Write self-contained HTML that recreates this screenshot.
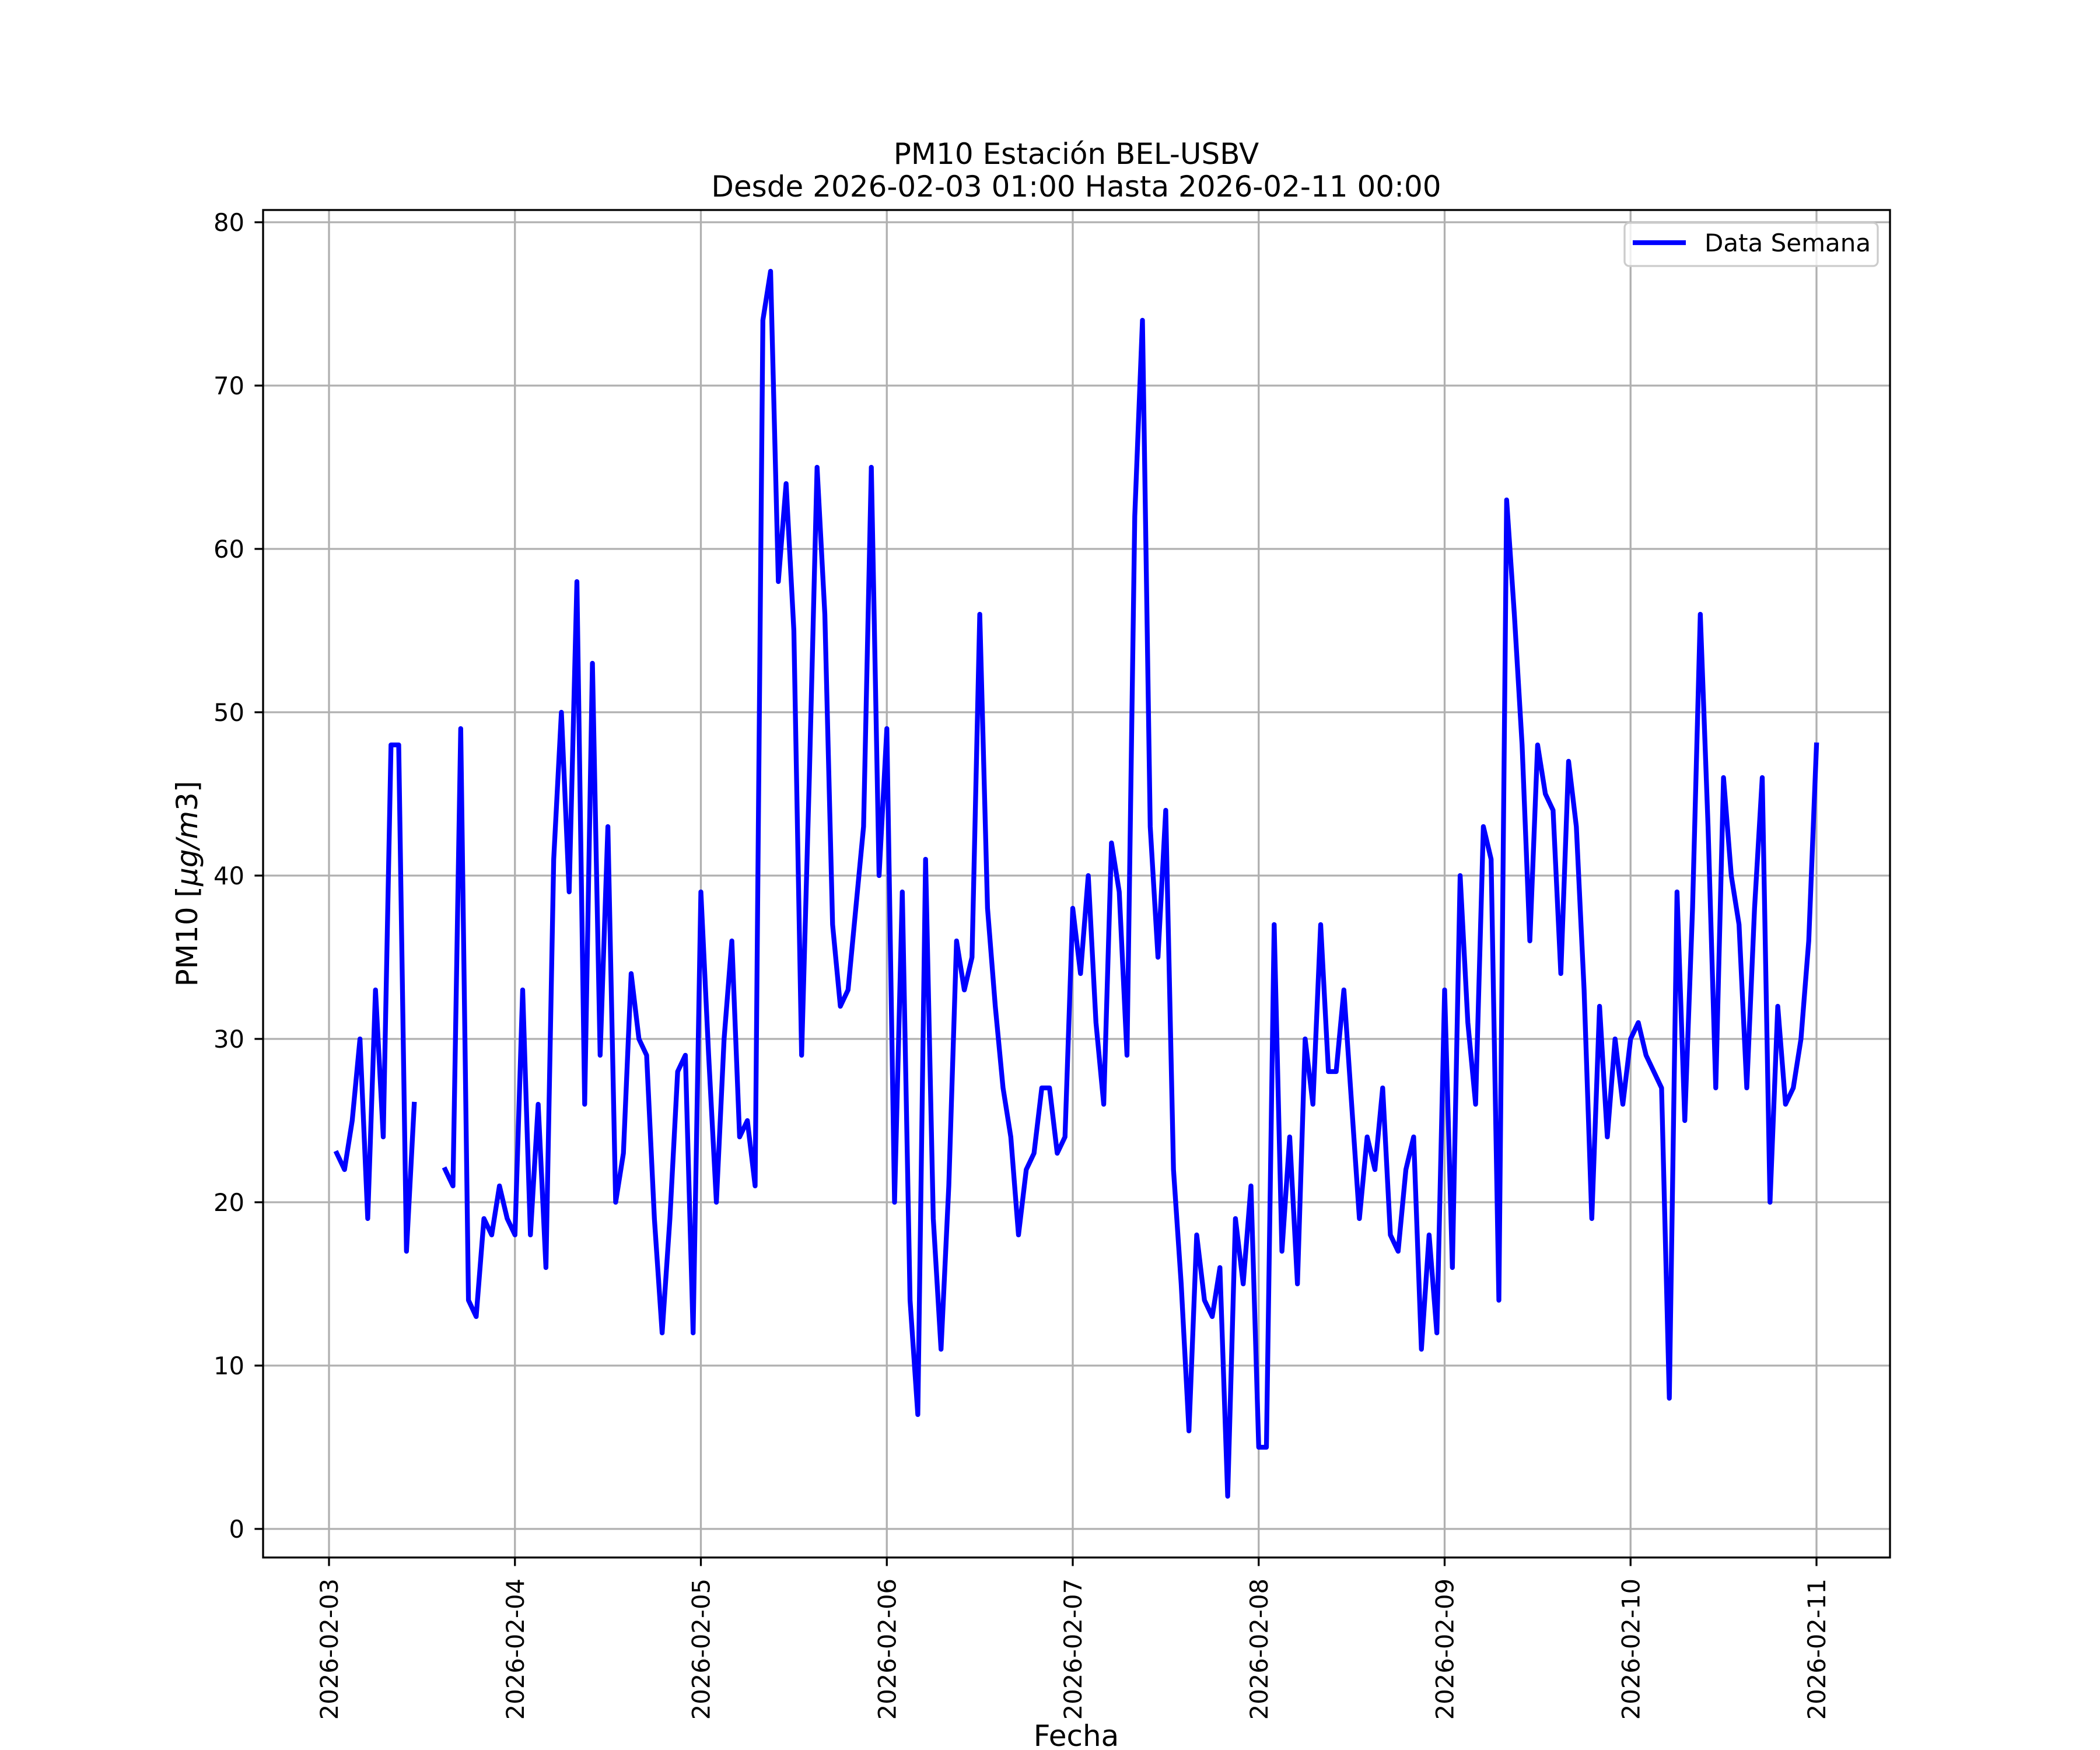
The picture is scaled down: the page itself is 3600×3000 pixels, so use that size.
<!DOCTYPE html>
<html><head><meta charset="utf-8">
<style>
html,body{margin:0;padding:0;background:#fff;}
svg{display:block;font-family:"DejaVu Sans","Liberation Sans",sans-serif;}
</style></head>
<body>
<svg id="chart" width="3600" height="3000" viewBox="0 0 3600 3000" xmlns="http://www.w3.org/2000/svg">
<rect x="0" y="0" width="3600" height="3000" fill="#fff"/>
<text x="1845" y="281" font-size="50" text-anchor="middle">PM10 Estación BEL-USBV</text>
<text x="1845" y="337" font-size="50" text-anchor="middle">Desde 2026-02-03 01:00 Hasta 2026-02-11 00:00</text>
<g id="grid"></g>
<g id="series"></g>
<rect x="451" y="360" width="2789" height="2310" fill="none" stroke="#000" stroke-width="3.3"/>
<g id="ticks"></g>
<text transform="translate(320,1515) rotate(-90)" font-size="50" text-anchor="middle" dy="0.36em">PM10 [<tspan font-style="italic">μg/m</tspan>3]</text>
<text x="1845" y="2993" font-size="50" text-anchor="middle">Fecha</text>
<g>
<rect x="2785" y="382" width="434" height="74" rx="8" fill="#fff" fill-opacity="0.8" stroke="#cccccc" stroke-width="3.3"/>
<line x1="2799" y1="416" x2="2890" y2="416" stroke="#0000ff" stroke-width="8.3"/>
<text x="2922" y="431" font-size="42">Data Semana</text>
</g>
</svg>
<script>
const startHour = 1; // 2026-02-03 01:00, hours since 2026-02-03 00:00
const values = [
23,22,25,30,19,33,24,48,48,17,26,null,null,null,22,21,49,14,13,19,18,21,19,18,
33,18,26,16,41,50,39,58,26,53,29,43,20,23,34,30,29,19,12,19,28,29,12,39,
29,20,30,36,24,25,21,74,77,58,64,55,29,46,65,56,37,32,33,38,43,65,40,49,
20,39,14,7,41,19,11,21,36,33,35,56,38,32,27,24,18,22,23,27,27,23,24,38,
34,40,31,26,42,39,29,62,74,43,35,44,22,15,6,18,14,13,16,2,19,15,21,5,
5,37,17,24,15,30,26,37,28,28,33,26,19,24,22,27,18,17,22,24,11,18,12,33,
16,40,31,26,43,41,14,63,56,48,36,48,45,44,34,47,43,33,19,32,24,30,26,30,
31,29,28,27,8,39,25,38,56,43,27,46,40,37,27,38,46,20,32,26,27,30,36,48
];
const yTicks = [0,10,20,30,40,50,60,70,80];
const xTickLabels = ["2026-02-03","2026-02-04","2026-02-05","2026-02-06","2026-02-07","2026-02-08","2026-02-09","2026-02-10","2026-02-11"];

const NS = "http://www.w3.org/2000/svg";
const X0 = 564, DAYPX = 318.75, Y0 = 2621, UNIT = 28;
function xScale(h){ return X0 + h/24*DAYPX; }
function yScale(v){ return Y0 - v*UNIT; }
function mk(tag, attrs, parent){
  const el = document.createElementNS(NS, tag);
  for (const k in attrs) el.setAttribute(k, attrs[k]);
  parent.appendChild(el);
  return el;
}
const grid = document.getElementById('grid');
const ticks = document.getElementById('ticks');
const series = document.getElementById('series');

yTicks.forEach(v => {
  const y = yScale(v);
  const g = mk('line', {x1:451, x2:3240, y1:y, y2:y, stroke:'#b0b0b0', 'stroke-width':3.3}, grid);
  
  
  const t = mk('line', {x1:436.4, x2:451, y1:y, y2:y, stroke:'#000', 'stroke-width':3.3}, ticks);
  
  
  const lb = mk('text', {x:419, y:y, dy:'0.36em', 'font-size':41.7, 'text-anchor':'end'}, ticks);
  lb.textContent = String(v);
  
  
});
xTickLabels.forEach((lab, i) => {
  const x = xScale(i*24);
  const g = mk('line', {x1:x, x2:x, y1:360, y2:2670, stroke:'#b0b0b0', 'stroke-width':3.3}, grid);
  
  
  const t = mk('line', {x1:x, x2:x, y1:2670, y2:2684.6, stroke:'#000', 'stroke-width':3.3}, ticks);
  
  
  const lb = mk('text', {transform:'translate('+x+',2706) rotate(-90)', dy:'0.36em', 'font-size':41.7, 'text-anchor':'end'}, ticks);
  lb.textContent = lab;
  
  
});

let d = '', pen = false;
values.forEach((v, i) => {
  if (v === null) { pen = false; return; }
  const x = xScale(startHour + i).toFixed(1), y = yScale(v).toFixed(1);
  d += (pen ? 'L' : 'M') + x + ',' + y + ' ';
  pen = true;
});
const path = mk('path', {d:d, fill:'none', stroke:'#0000ff', 'stroke-width':8.3, 'stroke-linejoin':'round', 'stroke-linecap':'square'}, series);


</script>
</body></html>
